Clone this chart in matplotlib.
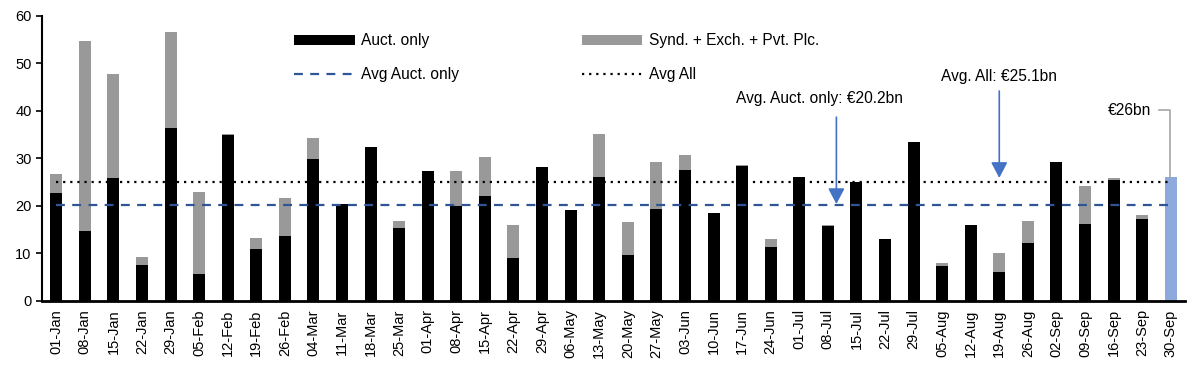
import matplotlib
matplotlib.use("Agg")
import matplotlib.pyplot as plt
import numpy as np

plt.rcParams['font.family'] = ['Liberation Sans', 'DejaVu Sans']

weeks = ['01-Jan', '08-Jan', '15-Jan', '22-Jan', '29-Jan', '05-Feb', '12-Feb', '19-Feb', '26-Feb',
         '04-Mar', '11-Mar', '18-Mar', '25-Mar', '01-Apr', '08-Apr', '15-Apr', '22-Apr', '29-Apr',
         '06-May', '13-May', '20-May', '27-May', '03-Jun', '10-Jun', '17-Jun', '24-Jun', '01-Jul',
         '08-Jul', '15-Jul', '22-Jul', '29-Jul', '05-Aug', '12-Aug', '19-Aug', '26-Aug', '02-Sep',
         '09-Sep', '16-Sep', '23-Sep', '30-Sep']

# auction-only volumes (EUR bn); last week shown separately
auct_only = [22.7, 14.7, 25.8, 7.6, 36.5, 5.6, 35.0, 11.0, 13.7,
             29.8, 20.5, 32.5, 15.4, 27.3, 20.0, 22.0, 9.0, 28.1,
             19.2, 26.2, 9.7, 19.4, 27.6, 18.6, 28.4, 11.4, 26.2,
             15.8, 25.0, 13.0, 33.5, 7.3, 16.0, 6.0, 12.1, 29.2,
             16.1, 25.5, 17.2, 0.0]
# syndications + exchanges + private placements
synd_other = [4.0, 40.1, 21.9, 1.7, 20.1, 17.4, 0.2, 2.3, 8.0,
              4.6, 0.0, 0.0, 1.5, 0.0, 7.3, 8.3, 7.0, 0.0,
              0.0, 9.0, 7.0, 9.9, 3.1, 0.0, 0.2, 1.7, 0.0,
              0.2, 0.0, 0.0, 0.0, 0.6, 0.0, 4.0, 4.8, 0.0,
              8.1, 0.3, 1.0, 0.0]
# current week total (highlighted)
current_week = [0.0] * 39 + [26.0]

avg_auct = 20.2
avg_all = 25.1

x = np.arange(len(weeks))
auct = np.array(auct_only)
other = np.array(synd_other)

fig = plt.figure(figsize=(12, 3.8), dpi=100)
ax = fig.add_axes([0.035, 0.208, 0.9525, 0.75])

w = 0.42
b1 = ax.bar(x, auct, width=w, color='black', zorder=2)
b2 = ax.bar(x, other, width=w, bottom=auct, color='#999999', zorder=2)
ax.bar(x, current_week, width=w, color='#8EA9DB', zorder=2)

l1, = ax.plot(x, [avg_auct] * len(x), color='#2F5597', lw=1.6,
              linestyle=(0, (4, 3.3)), zorder=3)
l2, = ax.plot(x, [avg_all] * len(x), color='black', lw=1.6,
              linestyle=(0, (1, 2.2)), zorder=3)

ax.set_xlim(-0.5, len(x) - 0.5)
ax.set_ylim(0, 60)
ax.set_yticks(range(0, 61, 10))
ax.set_xticks(x)
ax.set_xticklabels(weeks, rotation=90, fontsize=10.5)
ax.tick_params(axis='x', length=0, pad=6)
ax.tick_params(axis='y', labelsize=10.5, length=4, width=1.2, direction='out')
for s in ['top', 'right']:
    ax.spines[s].set_visible(False)
ax.spines['left'].set_linewidth(1.5)
ax.spines['bottom'].set_linewidth(2)

# legend (column-wise fill: col 1 = Auct. only / Avg Auct. only)
ax.legend([b1, l1, b2, l2],
          ['Auct. only', 'Avg Auct. only', 'Synd. + Exch. + Pvt. Plc.', 'Avg All'],
          loc='upper left', bbox_to_anchor=(0.245, 0.912), bbox_transform=fig.transFigure,
          ncol=2, frameon=False, fontsize=11.2, handlelength=3.9, handletextpad=0.4,
          columnspacing=7.9, labelspacing=1.2, borderpad=0, borderaxespad=0)

# annotations
blue = '#4472C4'
arrow = dict(arrowstyle='-|>,head_length=0.95,head_width=0.5', color=blue, lw=1.2,
             shrinkA=0, shrinkB=0)
ax.text(26.7, 42.7, 'Avg. Auct. only: €20.2bn', ha='center', va='center', fontsize=11.2)
ax.annotate('', xy=(27.3, 20.4), xytext=(27.3, 38.7), arrowprops=arrow)
ax.text(33.0, 47.2, 'Avg. All: €25.1bn', ha='center', va='center', fontsize=11.2)
ax.annotate('', xy=(33.0, 25.9), xytext=(33.0, 44.2), arrowprops=arrow)
ax.text(37.55, 40.2, '€26bn', ha='center', va='center', fontsize=11.2)
ax.plot([38.6, 38.97, 38.97], [40.2, 40.2, current_week[-1]], color='#A5A5A5', lw=1.2, zorder=3)

fig.savefig('out.png', dpi=100)
